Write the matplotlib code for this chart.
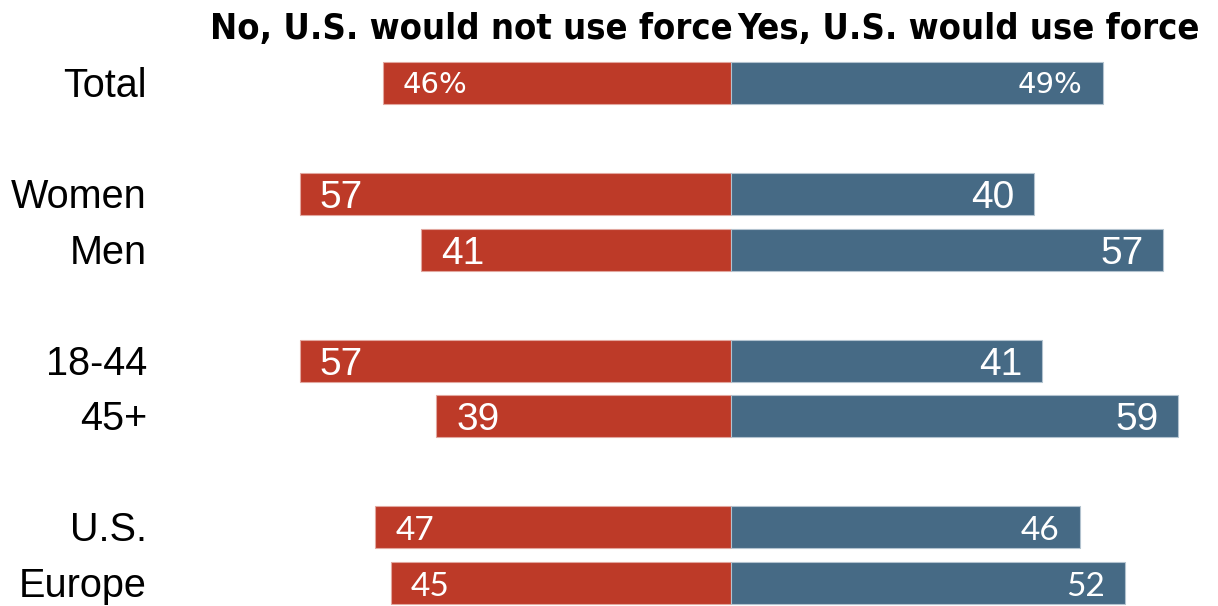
import matplotlib
matplotlib.use("Agg")
import matplotlib.pyplot as plt
from matplotlib.transforms import blended_transform_factory

# ---- data ----
categories = ["Total", "Women", "Men", "18-44", "45+", "U.S.", "Europe"]
slots = [0, 2, 3, 5, 6, 8, 9]
no_force = [46, 57, 41, 57, 39, 47, 45]
yes_force = [49, 40, 57, 41, 59, 46, 52]
no_labels = ["46%", "57", "41", "57", "39", "47", "45"]
yes_labels = ["49%", "40", "57", "41", "59", "46", "52"]
header_no = "No, U.S. would not use force"
header_yes = "Yes, U.S. would use force"

# ---- styles ----
RED = "#BD3A28"
BLUE = "#466A85"
RED_EDGE = "#E2A79F"
BLUE_EDGE = "#B3C3CF"
val_styles = [
    dict(family="DejaVu Sans", size=21),
    dict(family="Liberation Sans", size=28),
    dict(family="Liberation Sans", size=28),
    dict(family="Liberation Sans", size=28),
    dict(family="Liberation Sans", size=28),
    dict(family="Lato", size=24),
    dict(family="Lato", size=24),
]
cap_px = [21, 28, 28, 28, 28, 25, 25]

W, H = 1218, 606
fig = plt.figure(figsize=(W / 100, H / 100), dpi=100)
ax = fig.add_axes([0.2274, -0.00792, 0.7463, 0.91683])
ax.set_xlim(-60, 60)
ax.set_ylim(9.5, -0.5)
ax.axis("off")

bh = 0.755
ax.barh(slots, [-v for v in no_force], height=bh, color=RED,
        edgecolor=RED_EDGE, linewidth=0.8)
ax.barh(slots, yes_force, height=bh, color=BLUE,
        edgecolor=BLUE_EDGE, linewidth=0.8)

px_per_unit = 7.575
pad = 20 / px_per_unit
slot_px = 55.6
for i, s in enumerate(slots):
    off = (cap_px[i] / 2) / slot_px
    ax.text(-no_force[i] + pad, s + off, no_labels[i], ha="left", va="baseline",
            color="white", **val_styles[i])
    ax.text(yes_force[i] - pad, s + off, yes_labels[i], ha="right", va="baseline",
            color="white", **val_styles[i])

# category labels
tr = blended_transform_factory(fig.transFigure, ax.transData)
for cat, s in zip(categories, slots):
    ax.text(147 / W, s + 14 / slot_px, cat, transform=tr, ha="right",
            va="baseline", fontsize=28.5, family="Liberation Sans", color="black")

# headers
trh = blended_transform_factory(ax.transData, fig.transFigure)
base_y = (H - 39) / H
ax.text(0.2, base_y, header_no, transform=trh, ha="right", va="baseline",
        fontsize=26, fontweight="bold", family="DejaVu Sans",
        fontstretch="condensed", color="black")
ax.text(0.8, base_y, header_yes, transform=trh, ha="left", va="baseline",
        fontsize=26, fontweight="bold", family="DejaVu Sans",
        fontstretch="condensed", color="black")

fig.savefig("out.png", dpi=100)
